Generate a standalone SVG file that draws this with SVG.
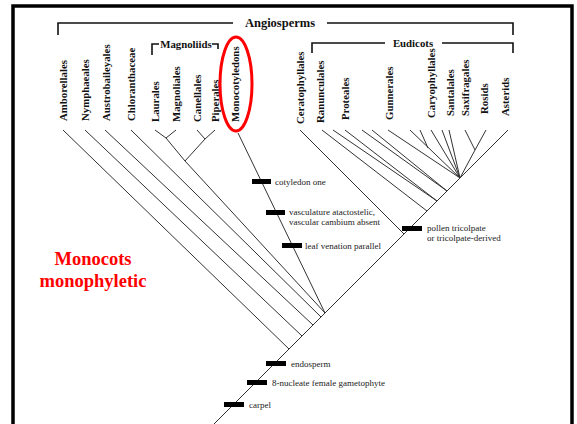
<svg xmlns="http://www.w3.org/2000/svg" width="577" height="424" viewBox="0 0 577 424">
  <style>
    .frame { fill: none; stroke: #000; stroke-width: 3.5; }
    .br { fill: none; stroke: #333; stroke-width: 1; }
    .brk { fill: none; stroke: #111; stroke-width: 1.6; }
    .bar { fill: #000; }
    .tx { font-family: "Liberation Serif", "Times New Roman", serif; font-weight: bold; font-size: 10.8px; fill: #111; }
    .grp { font-family: "Liberation Serif", "Times New Roman", serif; font-weight: bold; font-size: 12.5px; fill: #111; }
    .ch { font-family: "Liberation Serif", "Times New Roman", serif; font-size: 9px; fill: #222; }
    .note { font-family: "Liberation Serif", "Times New Roman", serif; font-weight: bold; font-size: 18.5px; fill: #f00; text-anchor: middle; }
  </style>
  <rect width="577" height="424" fill="#fff"/>
  <!-- slide frame, open at the bottom -->
  <path class="frame" d="M13,424 V6 H572 V424"/>

  <!-- group brackets -->
  <g id="angiosperms">
    <path class="brk" d="M58,35 V23 H233 M327,23 H513 V35"/>
    <text class="grp" x="280" y="27" text-anchor="middle">Angiosperms</text>
  </g>
  <g id="magnoliids">
    <path class="brk" d="M152,55 V44 H159 M212,44 H218 V49"/>
    <text class="tx" x="186" y="48" text-anchor="middle">Magnoliids</text>
  </g>
  <g id="eudicots">
    <path class="brk" d="M312,53 V43 H385 M442,43 H513 V53"/>
    <text class="tx" x="413" y="47" text-anchor="middle">Eudicots</text>
  </g>

  <!-- connectors: tree branches -->
  <g id="branches">
    <!-- main axis from root to Asterids -->
    <path class="br" d="M214,424 L508,130"/>
    <!-- basal grade -->
    <path class="br" d="M63,130 L289,349"/>
    <path class="br" d="M85,130 L302,336"/>
    <path class="br" d="M105,130 L313,325"/>
    <path class="br" d="M131,130 L321,317"/>
    <!-- magnoliids -->
    <path class="br" d="M155,130 L166,138 L176,130 M166,138 L185,161 L205,139 L197,130 M205,139 L215,130"/>
    <path class="br" d="M185,161 L325,313"/>
    <!-- monocots -->
    <path class="br" d="M238,133 L325,313"/>
    <!-- eudicots -->
    <path class="br" d="M300,130 L404,234"/>
    <path class="br" d="M322,130 L427,211"/>
    <path class="br" d="M333,130 L437,201 L345,130"/>
    <path class="br" d="M362,130 L447,191 L372,130"/>
    <path class="br" d="M388,130 L460,178"/>
    <!-- core eudicots -->
    <path class="br" d="M410,130 L460,178 M420,130 L428,148"/>
    <path class="br" d="M431,130 L460,178"/>
    <path class="br" d="M442,130 L460,178"/>
    <path class="br" d="M449,130 L460,178"/>
    <path class="br" d="M465,130 L475,150 L486,130 M475,150 L460,178"/>
  </g>

  <!-- character state changes -->
  <g id="characters">
    <rect class="bar" x="252" y="179" width="19" height="5"/>
    <text class="ch" x="275" y="185">cotyledon one</text>
    <rect class="bar" x="266" y="210" width="19" height="5"/>
    <text class="ch" x="289" y="215">vasculature atactostelic,</text>
    <text class="ch" x="289" y="225">vascular cambium absent</text>
    <rect class="bar" x="282" y="243" width="20" height="5"/>
    <text class="ch" x="305" y="249">leaf venation parallel</text>
    <rect class="bar" x="402" y="226" width="20" height="5"/>
    <text class="ch" x="427" y="231">pollen tricolpate</text>
    <text class="ch" x="427" y="241">or tricolpate-derived</text>
    <rect class="bar" x="266" y="361" width="20" height="5"/>
    <text class="ch" x="291" y="367">endosperm</text>
    <rect class="bar" x="247" y="380" width="20" height="5"/>
    <text class="ch" x="272" y="386">8-nucleate female gametophyte</text>
    <rect class="bar" x="224" y="402" width="20" height="5"/>
    <text class="ch" x="249" y="408">carpel</text>
  </g>

  <!-- terminal taxa -->
  <g id="taxa">
    <text class="tx" transform="translate(67,121) rotate(-90)">Amborellales</text>
    <text class="tx" transform="translate(89,121) rotate(-90)">Nymphaeales</text>
    <text class="tx" transform="translate(110,121) rotate(-90)">Austrobaileyales</text>
    <text class="tx" transform="translate(135,121) rotate(-90)">Chloranthaceae</text>
    <text class="tx" transform="translate(159,122) rotate(-90)">Laurales</text>
    <text class="tx" transform="translate(180,122) rotate(-90)">Magnoliales</text>
    <text class="tx" transform="translate(201,122) rotate(-90)">Canellales</text>
    <text class="tx" transform="translate(219,122) rotate(-90)">Piperales</text>
    <text class="tx" transform="translate(239,122) rotate(-90)">Monocotyledons</text>
    <text class="tx" transform="translate(304,124) rotate(-90)">Ceratophyllales</text>
    <text class="tx" transform="translate(324,123) rotate(-90)">Ranunculales</text>
    <text class="tx" transform="translate(349,120) rotate(-90)">Proteales</text>
    <text class="tx" transform="translate(393,120) rotate(-90)">Gunnerales</text>
    <text class="tx" transform="translate(435,118) rotate(-90)">Caryophyllales</text>
    <text class="tx" transform="translate(454,116) rotate(-90)">Santalales</text>
    <text class="tx" transform="translate(469,116) rotate(-90)">Saxifragales</text>
    <text class="tx" transform="translate(488,114) rotate(-90)">Rosids</text>
    <text class="tx" transform="translate(509,116) rotate(-90)">Asterids</text>
  </g>

  <!-- highlight on the monocot clade -->
  <ellipse cx="236" cy="84" rx="16" ry="47" fill="none" stroke="#f00" stroke-width="3"/>
  <text class="note" x="93" y="265">Monocots</text>
  <text class="note" x="93" y="287">monophyletic</text>
</svg>
